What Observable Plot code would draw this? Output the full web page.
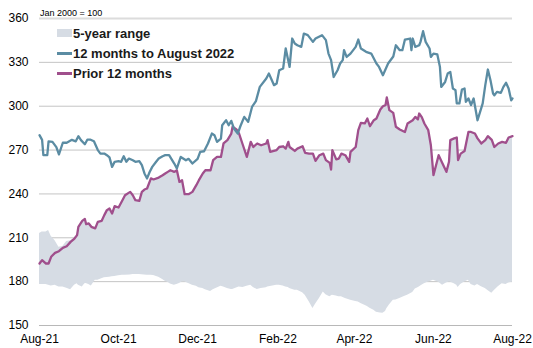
<!DOCTYPE html>
<html><head><meta charset="utf-8">
<script src="https://cdn.jsdelivr.net/npm/d3@7"></script>
<script src="https://cdn.jsdelivr.net/npm/@observablehq/plot@0.6"></script>
<style>
html,body{margin:0;padding:0;background:#fff;}
#wrap{position:relative;width:533px;height:348px;font-family:"Liberation Sans",Arial,sans-serif;}
#note{position:absolute;left:40px;top:8px;font-size:9px;line-height:10px;color:#000;}
#legend{position:absolute;left:57px;top:23px;font-size:13px;font-weight:bold;color:#1a1a1a;}
.row{display:flex;align-items:center;height:20.3px;}
.sw{width:15px;margin-right:1px;}
</style></head><body>
<div id="wrap"><div id="chart"></div><div id="note">Jan 2000 = 100</div><div id="legend"></div></div>
<script>
// Day offsets from 1 Aug 2021 (prior-12-months series and 5-year range share these)
const priorDays = [
  0,2,5,7,9,12,15,18,21,24,
  27,29,30,33,35,36,38,40,43,45,
  48,50,52,54,56,58,61,64,66,70,
  72,74,77,79,81,83,86,88,92,95,
  97,99,101,104,106,108,110,112,115,118,
  121,123,126,128,132,134,137,140,142,145,
  148,149,152,154,157,160,163,165,168,171,
  175,176,178,183,185,188,190,192,193,197,
  199,203,205,208,211,213,216,219,221,224,
  225,226,229,231,233,236,239,240,244,246,
  248,251,253,255,258,260,263,265,267,268,
  270,273,275,278,282,284,288,290,292,293,
  295,297,300,302,304,308,311,314,316,317,
  320,322,323,325,328,331,333,336,338,341,
  344,346,349,351,354,357,360,362,365];
const priorValues = [
  192.4,194.7,192.4,192.4,197,199.7,200.8,203.1,204.2,207.2,
  209.5,211.8,217.5,221.6,222.9,219.3,219.8,217.5,216.4,220.9,
  221.6,225.5,228.9,230,226.6,231.6,230.7,235.7,239.1,241.4,
  239.1,235.7,235.2,241.4,243,243.7,250.6,249.9,251.2,252.8,
  254,255.1,256.2,255.1,256.2,248.2,249.4,239.8,239.8,241.4,
  246,249.4,254,256.2,256.2,263.1,265.3,265.3,274.5,276.8,
  281.3,285.9,284.1,281.3,273.3,265.3,275.6,272.1,274.5,273.3,
  274.5,276.8,268.8,270,272.1,272.6,271,275.6,272.1,269.4,
  271,272.6,268.1,267.6,267.6,262.6,266.5,267.6,263.1,261.2,
  256.7,270,263.6,264.2,267.6,266.5,261.9,268.8,272.1,283.6,
  288.6,288.2,291.6,286.3,290.4,291.6,297.8,300,300.7,306,
  297.3,295.4,285.9,284.1,282.4,288.2,290.4,292.7,291,295,
  292.5,288.2,283.6,273.3,252.8,266.5,260.8,255.1,262,276.8,
  278,278.6,263.1,267.6,269.4,282.4,282.4,281.3,278,274.5,
  276.8,279.5,277,272.1,274.5,275.6,275,278.6,279.5];
// 5-year range: lower bound at the same days
const rangeLow = [
  178,178,178,177.5,177,177.5,176.4,176.4,175.5,174.5,
  177.5,178.5,177.5,176.4,178.5,178.7,178,177,181,181,
  182,182.6,182.8,183,183.3,183.5,184,184.4,184.4,184.6,
  184.9,184.9,184.9,184.7,184.5,184.4,184.4,184.2,183,181.5,
  180.2,179.5,178.4,177.6,178,178.7,179.8,180,178.7,177.6,
  176.9,175.8,175.3,174.5,173.3,174.5,175.6,176.9,176.4,175.3,
  174.6,174.6,175.6,176.4,176,176.9,177.6,176,174.6,175.3,
  175.8,176.4,176.6,177.6,177.6,177,176.4,176,175.3,174.1,
  174.1,172.4,170.7,166.5,161.6,164.5,168.5,173,171,169.6,
  170.2,170.7,170.2,169.6,169.6,168.5,167.6,167.3,166.5,166,
  165,163.8,163,161.8,160.5,159,158.5,158.3,159.5,161.5,
  164,167.3,167.5,168.5,170,170.7,172.5,175,175.8,176.4,
  177.6,178.5,179.8,180.2,181,179.5,177.6,179,179.8,179.8,
  178.5,177.5,176,178,179.8,181,178,177,178,176.5,
  175.3,174,172,174,176.5,178.5,178,179,179.8];
// 5-year range upper bound where it sits above the prior-12-months line (first days only)
const rangeHighEarly = [213,214,214,215,211,208,203.5,204,207.5,208];

// 12 months to August 2022
const recentDays = [
  0,2,3,6,7,10,13,15,18,21,
  23,25,28,30,32,35,37,39,42,45,
  47,50,52,54,56,58,61,63,65,67,
  69,72,74,77,79,81,83,85,87,90,
  92,95,97,100,104,106,109,113,115,118,
  122,124,127,130,133,135,137,140,141,144,
  146,148,150,153,155,158,161,163,164,167,
  170,175,177,181,183,185,188,190,193,195,
  197,199,202,204,207,211,213,218,221,223,
  225,227,230,232,234,235,237,240,244,246,
  248,252,256,260,262,265,269,273,275,278,
  280,282,286,287,288,290,293,294,296,298,
  301,302,304,307,309,310,313,315,317,319,
  321,322,324,326,328,329,331,333,335,338,
  340,342,344,346,348,350,351,353,356,358,
  360,362,364,365];
const recentValues = [
  280.2,277,266.5,266.5,276,275.6,272,267,275,275,
  276,277,276,279.5,276.8,274,277.2,277.2,276,270,
  267.6,267.6,266.5,265,258.5,262,262.4,262,265.8,262,
  264.2,263,262,262.4,259.7,254,250.6,255,258.5,262,
  264.2,265.8,266.5,266.5,260.8,257.4,265.3,263,264,260.8,
  264,268.8,269.2,274.5,281.3,280.2,275.6,277.9,287,290.4,
  287,290,284.8,281.3,286.3,292.7,289.3,296,299.5,303.5,
  313.2,319,322.4,314.4,315.5,324.6,325.8,339.5,326.9,346.3,
  342.9,341.7,340.6,349.7,348.6,344,346.3,348.6,345.2,336,
  331.5,320,324.6,329.2,331.5,338.3,333.7,336,340.6,345.6,
  339.5,337.2,336,329.2,326.9,321.2,329.2,334,341.7,338.3,
  338.3,345.6,346.3,338.3,346.3,340.6,341.7,344,351.3,344,
  339.5,333.7,336,335.4,326.9,313.2,316.6,322.4,323.5,312.1,
  311,301.9,301.9,311.4,312.1,303,305.3,300.8,305.3,290.4,
  296.1,301.9,314.4,325.1,317.8,308.7,307.5,309.8,309.1,313.2,
  316,312.1,304,305.3];

const xTickDates = ["2021-08-01","2021-10-01","2021-12-01","2022-02-01","2022-04-01","2022-06-01","2022-08-01"];
const xTickLabels = ["Aug-21","Oct-21","Dec-21","Feb-22","Apr-22","Jun-22","Aug-22"];
const yTicks = [150,180,210,240,270,300,330,360];

const legendItems = [
  {label:"5-year range", kind:"area", color:"#d6dce4"},
  {label:"12 months to August 2022", kind:"line", color:"#5b8ca3"},
  {label:"Prior 12 months", kind:"line", color:"#a04f8c"}
];

const t0 = Date.UTC(2021,7,1);
const toDate = d => new Date(t0 + d*864e5);

const priorData = priorDays.map((d,i)=>({date:toDate(d), v:priorValues[i]}));
const rangeData = priorDays.map((d,i)=>({date:toDate(d), low:rangeLow[i],
  high: Math.max(priorValues[i], i < rangeHighEarly.length ? rangeHighEarly[i] : -Infinity)}));
const recentData = recentDays.map((d,i)=>({date:toDate(d), v:recentValues[i]}));

const tickDates = xTickDates.map(s=>new Date(s+"T00:00:00Z"));
const labelOf = new Map(tickDates.map((d,i)=>[+d, xTickLabels[i]]));

const chart = Plot.plot({
  width:533, height:348,
  marginLeft:39, marginRight:21, marginTop:18, marginBottom:23,
  style:{fontFamily:"'Liberation Sans', Arial, sans-serif", fontSize:"12px", color:"#000", background:"#fff"},
  x:{type:"utc", domain:[toDate(0), toDate(365)]},
  y:{domain:[150,360]},
  marks:[
    Plot.ruleY(yTicks.filter(v=>v>150 && v<360), {stroke:"#c4c4c4", strokeWidth:1}),
    Plot.ruleY([360], {stroke:"#dcdcdc", strokeWidth:2}),
    Plot.areaY(rangeData, {x:"date", y1:"low", y2:"high", fill:"#d6dce4"}),
    Plot.ruleY([150], {stroke:"#b8b8b8", strokeWidth:1}),
    Plot.lineY(priorData, {x:"date", y:"v", stroke:"#a04f8c", strokeWidth:2.3}),
    Plot.lineY(recentData, {x:"date", y:"v", stroke:"#5b8ca3", strokeWidth:2.3}),
    Plot.axisY(yTicks, {tickSize:0, tickPadding:11, fontSize:12}),
    Plot.axisX(tickDates, {tickSize:0, tickPadding:9, fontSize:12, tickFormat:d=>labelOf.get(+d)})
  ]
});
document.getElementById("chart").appendChild(chart);

const leg = document.getElementById("legend");
for (const it of legendItems) {
  const row = document.createElement("div"); row.className="row";
  const sw = document.createElement("div"); sw.className="sw";
  if (it.kind==="area") { sw.style.height="8px"; sw.style.background=it.color; }
  else { sw.style.height="2.5px"; sw.style.background=it.color; }
  const tx = document.createElement("span"); tx.textContent = it.label;
  row.appendChild(sw); row.appendChild(tx); leg.appendChild(row);
}
</script>
</body></html>
